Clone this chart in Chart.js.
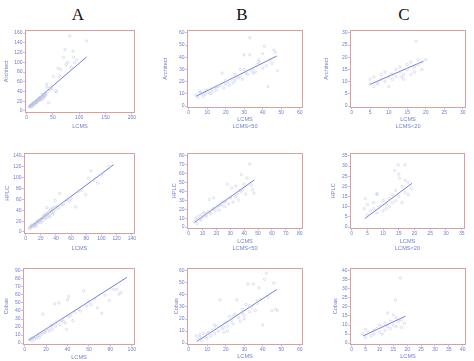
<!DOCTYPE html>
<html>
<head>
<meta charset="utf-8">
<script src="https://cdn.jsdelivr.net/npm/chart.js@4.4.1/dist/chart.umd.min.js"></script>
<style>
  body { margin: 0; background: #fff; width: 474px; height: 361px; position: relative; overflow: hidden; }
  .hd { position: absolute; top: 5px; width: 40px; margin-left: -20px; text-align: center;
        font: 17px/19px 'Liberation Serif', 'DejaVu Serif', serif; color: #111; }
  canvas { position: absolute; }
</style>
</head>
<body>
<div class="hd" style="left:78px">A</div>
<div class="hd" style="left:242px">B</div>
<div class="hd" style="left:404px">C</div>

<script>
// ---- data ----

// column A : all samples
const lcmsA1 = [5,6,7,8,9,10,11,12,13,14,15,16,17,18,19,20,21,22,23,24,25,26,27,28,29,30,31,32,33,34,35,36,38,39,40,42,45,48,51,55,57,60,62,65,70,73,75,78,82,85,88,89,91,95,114,8,10,12,15,18,20,25,28,30,33,36,45];
const archA1 = [8,10,9,11,12,10,14,13,15,14,16,18,17,19,18,20,22,21,23,22,26,24,27,28,25,31,29,32,30,35,33,37,55,49,40,17,44,46,71,42,39,88,72,85,110,126,95,100,154,90,123,111,99,105,144,12,8,16,13,21,17,28,22,34,27,32,47];

const lcmsA2 = [5,6,7,8,9,10,11,12,13,14,15,16,17,18,19,20,21,22,23,24,25,26,27,28,29,30,31,32,33,34,35,36,37,38,39,40,42,44,45,48,50,55,58,60,66,70,74,79,83,86,90,95,100,110,8,12,16,20,24,28,32,36,14,26];
const hplcA2 = [6,9,8,11,10,13,12,15,14,17,16,19,21,18,23,22,25,21,26,29,27,24,31,45,33,36,30,38,42,35,40,44,38,46,58,42,48,45,71,50,52,60,57,62,46,75,77,69,99,113,95,90,105,121,13,10,20,17,30,27,28,33,11,34];

const lcmsA3 = [5,6,7,8,9,10,11,12,13,14,15,16,17,18,19,20,22,23,24,25,26,27,28,29,30,32,33,34,35,36,38,39,40,41,41,43,45,47,50,52,55,58,60,62,65,68,72,75,79,83,86,88,90];
const cobasA3 = [4,6,3,7,5,8,6,10,9,7,12,11,36,14,13,16,18,15,20,22,17,24,49,21,26,50,23,28,30,27,25,17,54,58,33,35,28,38,42,40,65,46,52,48,55,44,37,60,53,67,67,61,63];

// column B : LCMS < 50
const lcmsB1 = [4,5,6,7,8,9,10,11,12,13,14,15,16,17,18,19,20,21,22,23,24,25,26,27,28,29,30,31,32,33,33,34,35,36,37,38,40,40,41,42,43,44,45,46,47,48,6,9,12,15,20,25,30,35,38,28];
const archB1 = [9,7,11,10,8,12,13,11,14,12,15,13,16,17,27,15,18,20,17,22,19,21,24,23,25,22,42,27,26,56,42,29,31,28,34,36,43,31,49,33,16,38,35,46,44,29,12,10,10,16,21,26,30,27,38,30];

const lcmsB2 = [4,5,6,7,8,9,10,11,12,13,14,15,16,17,18,19,20,21,22,23,24,25,26,27,28,29,30,31,32,33,34,35,36,37,38,39,40,41,42,44,45,46,47,6,9,12,15,18,22,26,30,34,38];
const hplcB2 = [6,10,8,12,9,14,11,16,13,12,17,31,15,20,33,18,22,24,19,27,25,29,23,30,48,26,33,44,28,36,46,38,30,41,59,43,48,37,55,71,47,42,38,4,8,15,17,21,24,28,33,34,40];

const lcmsB3 = [4,5,6,7,8,9,10,11,12,13,14,15,16,17,18,19,20,21,22,23,24,25,26,27,28,29,30,31,32,33,34,35,36,37,38,39,40,41,42,43,45,46,47,48,6,10,14,19,24,29,33,37,30,21];
const cobasB3 = [6,3,7,2,8,5,4,9,6,11,8,13,10,36,12,9,17,14,22,19,16,24,36,21,18,28,23,32,49,26,30,49,27,33,46,36,15,53,58,38,27,50,28,27,5,8,15,13,22,25,31,35,20,10];

// column C : LCMS < 20
const lcmsC1 = [5,5,6,6,7,7,8,8,9,9,10,10,11,11,12,12,13,13,14,14,15,15,16,16,17,17,18,18,19,19,20,10.5,13.5,17.4];
const archC1 = [9,11,8,12,10,9,13,11,10,14,12,8,13,11,15,12,14,16,13,11,17,15,13,18,16,14,17,19,15,18,19,13,12,26.6];

const lcmsC2 = [4,5,5,6,7,7,8,8,9,10,10,11,11,12,12,13,13,14,14,15,15,16,16,17,17,18,18,19,14.8,17,13.7,15.2,4.4,8.1];
const hplcC2 = [9,6,11,8,9,12,7,16,10,8,13,11,9,14,10,16,12,18,13,26,15,20,12,23,17,16,22,19,30.6,30.6,27.8,24,14,16.5];

const lcmsC3 = [4,5,5,6,7,8,8,9,10,10,11,11,12,12,13,13,14,14,15,15,16,16,17,18,18,19,17.5,15.8];
const cobasC3 = [5,7.5,3,6,4,7,5,8,6,10,9,5,11,7,16.7,9,12,8,15.5,10,14,9,12,8.7,13,11,36,23.8];

// regression lines (end points)
const fitA1x = [4, 114],   fitA1y = [9, 111];
const fitA2x = [4.3, 116], fitA2y = [7.6, 124];
const fitA3x = [3.6, 95.5], fitA3y = [3.6, 82];
const fitB1x = [4, 47.6],  fitB1y = [8, 41];
const fitB2x = [4.2, 47.4], fitB2y = [5.3, 53];
const fitB3x = [4.4, 47.6], fitB3y = [1.3, 44.5];
const fitC1x = [5, 19.4],  fitC1y = [8.9, 18.4];
const fitC2x = [4.2, 19.2], fitC2y = [4.2, 21.5];
const fitC3x = [4.1, 19.4], fitC3y = [3.9, 14.9];

// tick labels
const ticksA1x = [0,50,100,150,200],        ticksA1y = [0,20,40,60,80,100,120,140,160];
const ticksA2x = [0,20,40,60,80,100,120,140], ticksA2y = [0,20,40,60,80,100,120,140];
const ticksA3x = [0,20,40,60,80,100],       ticksA3y = [0,10,20,30,40,50,60,70,80,90];
const ticksB1x = [0,10,20,30,40,50,60],     ticksB1y = [0,10,20,30,40,50,60];
const ticksB2x = [0,10,20,30,40,50,60,70,80], ticksB2y = [0,10,20,30,40,50,60,70,80];
const ticksB3x = [0,10,20,30,40,50,60],     ticksB3y = [0,10,20,30,40,50,60];
const ticksC1x = [0,5,10,15,20,25,30],      ticksC1y = [0,5,10,15,20,25,30];
const ticksC2x = [0,5,10,15,20,25,30,35],   ticksC2y = [0,5,10,15,20,25,30,35];
const ticksC3x = [0,5,10,15,20,25,30,35,40], ticksC3y = [0,5,10,15,20,25,30,35,40];

// ---- drawing ----
const blue = '#6e7ecb';
const frame = '#d9a0a0';
const LH = 7; // title line height

// red box round the plot area
const framePlugin = {
  id: 'frame',
  afterDraw(chart) {
    const a = chart.chartArea, c = chart.ctx;
    c.save();
    c.strokeStyle = frame;
    c.lineWidth = 1;
    c.strokeRect(Math.round(a.left) + 0.5, Math.round(a.top) + 0.5, Math.round(a.right - a.left) - 1, Math.round(a.bottom - a.top) - 1);
    c.restore();
  }
};

function pts(xs, ys) {
  return xs.map((x, i) => ({ x: x, y: ys[i] }));
}

function axis(tickVals, size, titleText, isX) {
  const first = tickVals[0], last = tickVals[tickVals.length - 1];
  const range = last - first;
  return {
    type: 'linear',
    min: first - range * (isX ? 0.015 : 0.02),
    max: last + range * (isX ? 0.03 : 0.04),
    afterBuildTicks: s => { s.ticks = tickVals.map(v => ({ value: v })); },
    afterFit: s => {
      if (isX) s.height = size; else s.width = size;
      s.paddingLeft = 0; s.paddingRight = 0; s.paddingTop = 0; s.paddingBottom = 0;
    },
    grid: { display: true, drawOnChartArea: false, tickLength: 2, color: '#9aa0c6', lineWidth: 0.6 },
    border: { display: false },
    ticks: {
      font: { size: 5, family: 'Liberation Sans' }, color: blue,
      padding: 0.5, maxRotation: 0, autoSkip: false
    },
    title: {
      display: true, text: titleText, color: blue, padding: 0,
      font: { size: 5.6, family: 'Liberation Sans', lineHeight: LH / 5.6 }
    }
  };
}

function panel(p) {
  const nLines = Array.isArray(p.xTitle) ? p.xTitle.length : 1;
  const H = p.d + LH / 2 + LH * (nLines - 1);
  const w = (p.r - p.l) + p.yW + 8;
  const h = (p.b - p.t) + 6 + H;
  const cv = document.createElement('canvas');
  cv.width = w; cv.height = h;
  cv.style.left = (p.l - p.yW) + 'px';
  cv.style.top = (p.t - 6) + 'px';
  document.body.appendChild(cv);

  new Chart(cv.getContext('2d'), {
    type: 'scatter',
    data: {
      datasets: [{
        data: pts(p.xs, p.ys),
        pointStyle: 'circle', pointRadius: 1.2,
        borderColor: '#bcc2de', borderWidth: 0.5, backgroundColor: 'rgba(0,0,0,0)'
      }, {
        type: 'line',
        data: pts(p.fx, p.fy),
        borderColor: '#5a70d8', borderWidth: 0.9, pointRadius: 0, fill: false
      }]
    },
    options: {
      responsive: false, animation: false, devicePixelRatio: 1,
      layout: { padding: { top: 6, right: 8, bottom: 0, left: 0 } },
      plugins: { legend: { display: false }, tooltip: { enabled: false } },
      scales: {
        x: axis(p.tx, H, p.xTitle, true),
        y: axis(p.ty, p.yW, p.yTitle, false)
      }
    },
    plugins: [framePlugin]
  });
}

panel({ l: 25,  t: 30,  r: 135, b: 113, yW: 22, d: 14, xs: lcmsA1, ys: archA1, fx: fitA1x, fy: fitA1y, tx: ticksA1x, ty: ticksA1y, xTitle: 'LCMS', yTitle: 'Architect' });
panel({ l: 187, t: 30,  r: 303, b: 108, yW: 25, d: 12, xs: lcmsB1, ys: archB1, fx: fitB1x, fy: fitB1y, tx: ticksB1x, ty: ticksB1y, xTitle: ['LCMS', 'LCMS<50'], yTitle: 'Architect' });
panel({ l: 350, t: 30,  r: 466, b: 108, yW: 27, d: 12, xs: lcmsC1, ys: archC1, fx: fitC1x, fy: fitC1y, tx: ticksC1x, ty: ticksC1y, xTitle: ['LCMS', 'LCMS<20'], yTitle: 'Architect' });

panel({ l: 24,  t: 153, r: 135, b: 234, yW: 20, d: 15, xs: lcmsA2, ys: hplcA2, fx: fitA2x, fy: fitA2y, tx: ticksA2x, ty: ticksA2y, xTitle: 'LCMS', yTitle: 'HPLC' });
panel({ l: 187, t: 153, r: 303, b: 229, yW: 16, d: 13, xs: lcmsB2, ys: hplcB2, fx: fitB2x, fy: fitB2y, tx: ticksB2x, ty: ticksB2y, xTitle: ['LCMS', 'LCMS<50'], yTitle: 'HPLC' });
panel({ l: 350, t: 153, r: 465, b: 229, yW: 20, d: 13, xs: lcmsC2, ys: hplcC2, fx: fitC2x, fy: fitC2y, tx: ticksC2x, ty: ticksC2y, xTitle: ['LCMS', 'LCMS<20'], yTitle: 'HPLC' });

panel({ l: 23,  t: 268, r: 135, b: 345, yW: 20, d: 13, xs: lcmsA3, ys: cobasA3, fx: fitA3x, fy: fitA3y, tx: ticksA3x, ty: ticksA3y, xTitle: 'LCMS', yTitle: 'Cobas' });
panel({ l: 187, t: 268, r: 303, b: 345, yW: 14, d: 12, xs: lcmsB3, ys: cobasB3, fx: fitB3x, fy: fitB3y, tx: ticksB3x, ty: ticksB3y, xTitle: 'LCMS', yTitle: 'Cobas' });
panel({ l: 350, t: 268, r: 466, b: 345, yW: 18, d: 12, xs: lcmsC3, ys: cobasC3, fx: fitC3x, fy: fitC3y, tx: ticksC3x, ty: ticksC3y, xTitle: 'LCMS', yTitle: 'Cobas' });
</script>
</body>
</html>
